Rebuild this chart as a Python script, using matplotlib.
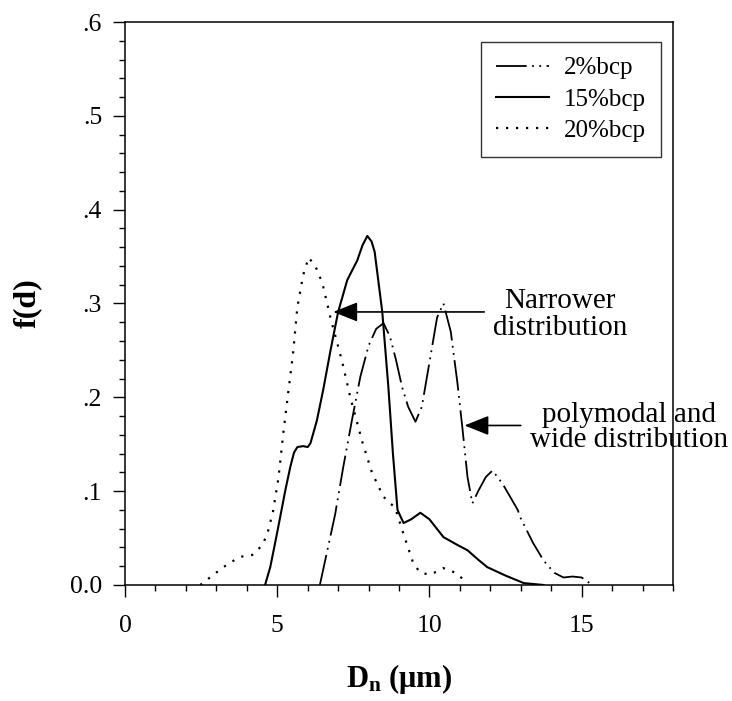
import matplotlib
matplotlib.use("Agg")
import matplotlib.pyplot as plt
from matplotlib.ticker import MultipleLocator, FixedLocator

#____________________________________________________________________________________________________
# data (D_n in um, f(d))

x_2 = [6.4, 6.58, 6.9, 7.17, 7.45, 7.73, 8.0, 8.25, 8.49, 8.7, 8.9, 9.1, 9.3, 9.54, 9.75,
       10.03, 10.25, 10.46, 10.7, 10.92, 11.08, 11.25, 11.41, 11.6, 11.85, 12.07, 12.4,
       12.9, 13.0, 13.4, 13.75, 14.1, 14.4, 14.7, 15.0, 15.35]
y_2 = [0, 0.027, 0.075, 0.126, 0.175, 0.222, 0.255, 0.273, 0.279, 0.265, 0.24, 0.211, 0.19,
       0.174, 0.19, 0.243, 0.285, 0.30, 0.27, 0.215, 0.168, 0.115, 0.087, 0.1, 0.115, 0.122,
       0.108, 0.080, 0.071, 0.045, 0.026, 0.013, 0.008, 0.009, 0.008, 0.0]

x_15 = [4.6, 4.77, 4.95, 5.1, 5.26, 5.43, 5.55, 5.66, 5.85, 6.0, 6.09, 6.3, 6.51, 6.75, 7.0,
        7.3, 7.63, 7.8, 7.96, 8.1, 8.2, 8.45, 8.65, 8.8, 8.95, 9.15, 9.4, 9.7, 10.0, 10.46,
        10.9, 11.25, 11.6, 11.9, 12.5, 13.1, 13.75]
y_15 = [0, 0.019, 0.048, 0.073, 0.1, 0.126, 0.141, 0.147, 0.148, 0.147, 0.151, 0.175, 0.208,
        0.25, 0.291, 0.325, 0.346, 0.362, 0.372, 0.366, 0.355, 0.291, 0.211, 0.14, 0.08,
        0.066, 0.07, 0.077, 0.07, 0.051, 0.043, 0.037, 0.027, 0.019, 0.01, 0.002, 0.0]

x_20 = [2.47, 2.87, 3.23, 3.62, 3.78, 4.18, 4.5, 4.67, 4.86, 5.04, 5.2, 5.33, 5.52, 5.66,
        5.85, 6.03, 6.25, 6.48, 6.74, 7.14, 7.4, 7.8, 8.12, 8.49, 8.88, 9.1, 9.47, 9.7,
        10.03, 10.46, 10.86, 11.25]
y_20 = [0, 0.01, 0.019, 0.027, 0.03, 0.032, 0.042, 0.054, 0.078, 0.114, 0.162, 0.197, 0.247,
        0.296, 0.33, 0.349, 0.34, 0.322, 0.286, 0.237, 0.2, 0.152, 0.119, 0.094, 0.082,
        0.059, 0.023, 0.013, 0.011, 0.018, 0.013, 0.002]

labels = ["2%bcp", "15%bcp", "20%bcp"]
y_ticks = [0.0, 0.1, 0.2, 0.3, 0.4, 0.5, 0.6]
y_ticklabels = ["0.0", ".1", ".2", ".3", ".4", ".5", ".6"]
x_ticks = [0, 5, 10, 15]

#____________________________________________________________________________________________________
# plot

plt.rcParams["font.family"] = ["Liberation Serif", "DejaVu Serif"]
plt.rcParams["mathtext.fontset"] = "custom"
plt.rcParams["mathtext.rm"] = "Liberation Serif"
plt.rcParams["mathtext.bf"] = "Liberation Serif:bold"

fig = plt.figure(figsize=(7.32, 7.01), dpi=100)
ax = fig.add_axes([0.1708, 0.1655, 0.7486, 0.8031])

ax.plot(x_2, y_2, color="black", lw=1.3, dashes=(17, 3, 1, 3, 1, 3), label=labels[0])
ax.plot(x_15, y_15, color="black", lw=1.5, label=labels[1])
ax.plot(x_20, y_20, color="black", lw=1.6, linestyle=(0, (1, 3.5)), label=labels[2])

ax.set_xlim(0, 18)
ax.set_ylim(0, 0.6)
ax.xaxis.set_major_locator(FixedLocator(x_ticks))
ax.xaxis.set_minor_locator(MultipleLocator(1))
ax.yaxis.set_major_locator(FixedLocator(y_ticks))
ax.set_yticklabels(y_ticklabels)
ax.yaxis.set_minor_locator(MultipleLocator(0.02))
ax.tick_params(which="major", direction="out", length=8.5, width=1, labelsize=18.5)
ax.tick_params(which="minor", direction="out", length=4, width=1)
ax.tick_params(axis="x", pad=13)
ax.tick_params(axis="y", pad=8)
for s in ax.spines.values():
    s.set_linewidth(1.1)

ax.set_xlabel(r"$\mathbf{D_n}$ (μm)", fontsize=22, fontweight="bold", labelpad=18)
ax.set_ylabel("f(d)", fontsize=23, fontweight="bold", labelpad=20)

leg = ax.legend(loc="upper right", bbox_to_anchor=(0.978, 0.9645), borderaxespad=0,
                fontsize=18, frameon=True, fancybox=False, edgecolor="black",
                handlelength=2.1, handletextpad=0.6, labelspacing=0.35, borderpad=0.6)
leg.get_frame().set_linewidth(1.0)

arrow = dict(arrowstyle="-|>,head_length=1.5,head_width=0.6", color="black", lw=1.2,
             shrinkA=0, shrinkB=0, mutation_scale=10)
ax.annotate("", xy=(6.84, 0.291), xytext=(11.8, 0.291), arrowprops=arrow)
ax.annotate("", xy=(11.15, 0.170), xytext=(13.0, 0.170), arrowprops=arrow)

ax.text(14.3, 0.288, "Narrower\ndistribution", fontsize=21, ha="center", va="center",
        multialignment="center", linespacing=1.05)
ax.text(16.55, 0.168, "polymodal and\nwide distribution", fontsize=21, ha="center",
        va="center", multialignment="center", linespacing=0.95, clip_on=False)

fig.savefig("out.png", dpi=100)
